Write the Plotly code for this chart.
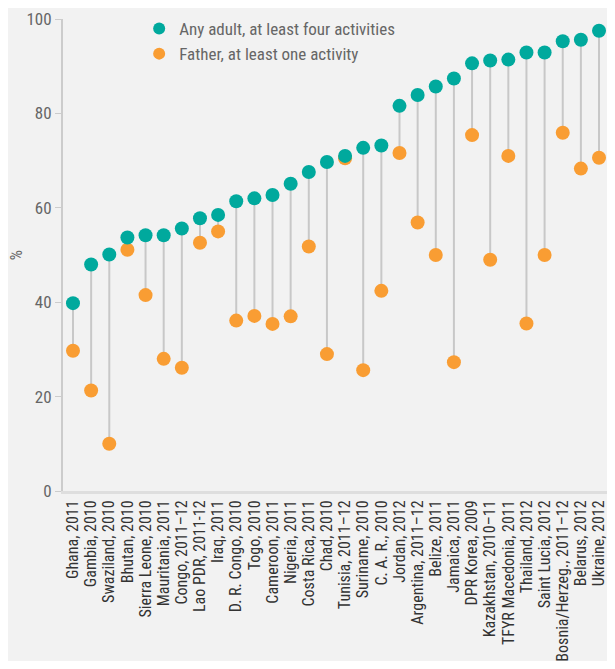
import plotly.graph_objects as go

categories = [
    "Ghana, 2011", "Gambia, 2010", "Swaziland, 2010", "Bhutan, 2010",
    "Sierra Leone, 2010", "Mauritania, 2011", "Congo, 2011–12", "Lao PDR, 2011-12",
    "Iraq, 2011", "D. R. Congo, 2010", "Togo, 2010", "Cameroon, 2011",
    "Nigeria, 2011", "Costa Rica, 2011", "Chad, 2010", "Tunisia, 2011–12",
    "Suriname, 2010", "C. A. R., 2010", "Jordan, 2012", "Argentina, 2011–12",
    "Belize, 2011", "Jamaica, 2011", "DPR Korea, 2009", "Kazakhstan, 2010–11",
    "TFYR Macedonia, 2011", "Thailand, 2012", "Saint Lucia, 2012",
    "Bosnia/Herzeg., 2011–12", "Belarus, 2012", "Ukraine, 2012",
]
any_adult = [
    39.8, 48.0, 50.1, 53.7, 54.2, 54.2, 55.6, 57.8, 58.5, 61.4,
    62.0, 62.7, 65.1, 67.6, 69.7, 71.0, 72.7, 73.2, 81.6, 83.9,
    85.7, 87.4, 90.6, 91.2, 91.4, 92.9, 92.9, 95.3, 95.6, 97.5,
]
father = [
    29.7, 21.3, 10.0, 51.1, 41.5, 28.0, 26.1, 52.6, 55.0, 36.1,
    37.1, 35.4, 37.0, 51.8, 29.0, 70.5, 25.6, 42.4, 71.6, 56.9,
    50.0, 27.3, 75.4, 49.0, 71.0, 35.5, 50.0, 75.9, 68.3, 70.6,
]
y_ticks = [0, 20, 40, 60, 80, 100]
series_names = ["Any adult, at least four activities", "Father, at least one activity"]

TEAL = "#00a99d"
ORANGE = "#f99d33"
FONT = "Liberation Sans Narrow, Roboto Condensed, Roboto, sans-serif"

stem_x, stem_y = [], []
for c, a, f in zip(categories, any_adult, father):
    stem_x += [c, c, None]
    stem_y += [a, f, None]

fig = go.Figure()
fig.add_trace(go.Scatter(
    x=stem_x, y=stem_y, mode="lines",
    line=dict(color="#c8c8c8", width=2),
    showlegend=False, hoverinfo="skip",
))
fig.add_trace(go.Scatter(
    x=categories, y=father, mode="markers", name=series_names[1],
    marker=dict(color=ORANGE, size=14),
))
fig.add_trace(go.Scatter(
    x=categories, y=any_adult, mode="markers", name=series_names[0],
    marker=dict(color=TEAL, size=14),
))

fig.add_annotation(
    text="%", xref="paper", yref="paper", x=-0.086, y=0.5,
    textangle=-90, showarrow=False, xanchor="center", yanchor="middle",
    font=dict(size=16, color="#666666"),
)

fig.update_layout(
    width=599, height=653,
    margin=dict(l=55, r=0, t=11, b=170, autoexpand=False),
    paper_bgcolor="#f2f2f2", plot_bgcolor="#f2f2f2",
    font=dict(family=FONT, color="#666666", size=16),
    showlegend=True,
    legend=dict(
        x=0.14, y=1.017, xanchor="left", yanchor="top",
        bgcolor="rgba(0,0,0,0)", font=dict(size=17, color="#666666"),
        traceorder="reversed", itemsizing="constant", itemwidth=30,
        tracegroupgap=0,
    ),
    xaxis=dict(
        type="category", categoryorder="array", categoryarray=categories,
        tickmode="array", tickvals=categories, ticktext=categories,
        range=[-0.551, 29.44], tickangle=-90, showgrid=False,
        showline=True, linecolor="#dedede", linewidth=3,
        ticks="", tickfont=dict(size=16, color="#333333"),
        zeroline=False, automargin=False,
    ),
    yaxis=dict(
        range=[0, 100], tickvals=y_ticks, showgrid=False, zeroline=False,
        showline=True, linecolor="#cccccc", linewidth=2,
        ticks="outside", ticklen=6, tickcolor="#cccccc", tickwidth=1,
        tickfont=dict(size=17, color="#666666"), automargin=False,
    ),
)

fig.write_html("out.html")
